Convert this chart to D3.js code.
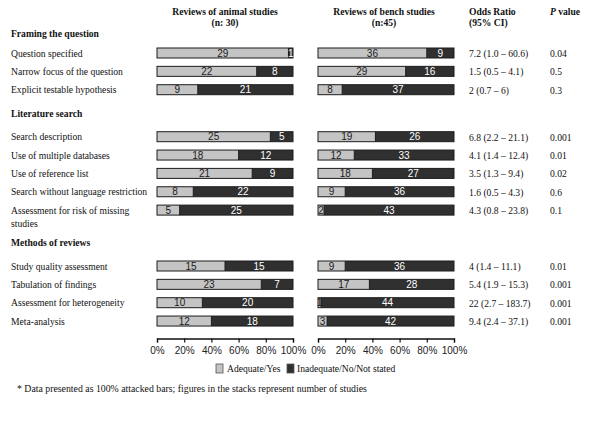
<!DOCTYPE html>
<html><head><meta charset="utf-8">
<script src="https://cdn.jsdelivr.net/npm/d3@7"></script>
<style>body{margin:0;background:#fff}</style>
</head><body>
<svg id="c" width="600" height="442"></svg>
<script>
const sections = ["Framing the question", "Literature search", "Methods of reviews"];
const categories = [
  "Question specified", "Narrow focus of the question", "Explicit testable hypothesis",
  "Search description", "Use of multiple databases", "Use of reference list",
  "Search without language restriction", "Assessment for risk of missing|studies",
  "Study quality assessment", "Tabulation of findings", "Assessment for heterogeneity", "Meta-analysis"
];
const categorySection = [0,0,0,1,1,1,1,1,2,2,2,2];
const animalYes = [29,22,9,25,18,21,8,5,15,23,10,12];
const animalNo  = [1,8,21,5,12,9,22,25,15,7,20,18];
const benchYes  = [36,29,8,19,12,18,9,2,9,17,1,3];
const benchNo   = [9,16,37,26,33,27,36,43,36,28,44,42];
const oddsRatio = ["7.2 (1.0 – 60.6)","1.5 (0.5 – 4.1)","2 (0.7 – 6)","6.8 (2.2 – 21.1)","4.1 (1.4 – 12.4)","3.5 (1.3 – 9.4)","1.6 (0.5 – 4.3)","4.3 (0.8 – 23.8)","4 (1.4 – 11.1)","5.4 (1.9 – 15.3)","22 (2.7 – 183.7)","9.4 (2.4 – 37.1)"];
const pValues = ["0.04","0.5","0.3","0.001","0.01","0.02","0.6","0.1","0.01","0.001","0.001","0.001"];
const tickValues = [0,0.2,0.4,0.6,0.8,1];
const legendLabels = ["Adequate/Yes","Inadequate/No/Not stated"];

const svg = d3.select("#c");
const serif = "'Liberation Serif','Times New Roman',serif";
const sans = "'Liberation Sans Narrow','Liberation Sans',Arial,sans-serif";
const light = "#c4c4c4", dark = "#303030", border = "#1c1c1c";

// vertical layout
const rowStep = 18.35;
const headerY = [33.3, 113.3, 242.3];
const firstRowY = [53, 136.7, 266];
const rowY = [];
const counts = [0,0,0];
categories.forEach((c,i)=>{ const s=categorySection[i]; rowY.push(firstRowY[s] + counts[s]*rowStep); counts[s]++; });
const barH = 10;

const xA = d3.scaleLinear().domain([0,1]).range([157, 293]);
const xB = d3.scaleLinear().domain([0,1]).range([318, 454]);

// column headers
function header(x, lines, bold=true, anchor="middle"){
  const t = svg.append("text").attr("x",x).attr("y",15).attr("text-anchor",anchor)
    .style("font-family",serif).style("font-size","9.6px").style("font-weight",bold?"bold":"normal").attr("fill","#111");
  lines.forEach((l,i)=> t.append("tspan").attr("x",x).attr("dy", i?10.5:0).text(l));
  return t;
}
header(225, ["Reviews of animal studies","(n: 30)"]);
header(384, ["Reviews of bench studies","(n:45)"]);
header(469, ["Odds Ratio","(95% CI)"], true, "start");
const pv = svg.append("text").attr("x",550).attr("y",15).style("font-family",serif).style("font-size","9.6px").style("font-weight","bold").attr("fill","#111");
pv.append("tspan").style("font-style","italic").text("P");
pv.append("tspan").text(" value");

// section headers
sections.forEach((s,i)=>{
  svg.append("text").attr("x",11).attr("y",headerY[i]+3.5).text(s)
    .style("font-family",serif).style("font-size","9.6px").style("font-weight","bold").attr("fill","#111");
});

// category labels
categories.forEach((c,i)=>{
  const t = svg.append("text").attr("x",11).attr("y",rowY[i]+3.5)
    .style("font-family",serif).style("font-size","9.6px").attr("fill","#111");
  c.split("|").forEach((l,j)=> t.append("tspan").attr("x",11).attr("dy", j?13:0).text(l));
});

// bars
function drawBars(x, yes, no){
  const g = svg.append("g");
  categories.forEach((c,i)=>{
    const tot = yes[i]+no[i];
    const fy = yes[i]/tot;
    const y0 = rowY[i]-barH/2;
    g.append("rect").attr("x",x(0)).attr("y",y0).attr("width",x(fy)-x(0)).attr("height",barH).attr("fill",light);
    g.append("rect").attr("x",x(fy)).attr("y",y0).attr("width",x(1)-x(fy)).attr("height",barH).attr("fill",dark);
    g.append("rect").attr("x",x(0)).attr("y",y0).attr("width",x(1)-x(0)).attr("height",barH)
      .attr("fill","none").attr("stroke",border).attr("stroke-width",1);
    g.append("line").attr("x1",x(fy)).attr("x2",x(fy)).attr("y1",y0).attr("y2",y0+barH).attr("stroke",border);
    g.append("text").attr("x",(x(0)+x(fy))/2).attr("y",rowY[i]+3.6).attr("text-anchor","middle")
      .style("font-family",sans).style("font-size","10px").attr("fill","#1a1a1a").text(yes[i]);
    g.append("text").attr("x",(x(fy)+x(1))/2).attr("y",rowY[i]+3.6).attr("text-anchor","middle")
      .style("font-family",sans).style("font-size","10px").attr("fill","#fff").text(no[i]);
  });
}
drawBars(xA, animalYes, animalNo);
drawBars(xB, benchYes, benchNo);

// OR and P columns
categories.forEach((c,i)=>{
  svg.append("text").attr("x",469).attr("y",rowY[i]+4).text(oddsRatio[i])
    .style("font-family",serif).style("font-size","9.6px").attr("fill","#111");
  svg.append("text").attr("x",550).attr("y",rowY[i]+4).text(pValues[i])
    .style("font-family",serif).style("font-size","9.6px").attr("fill","#111");
});

// axes
[xA,xB].forEach(x=>{
  const ax = svg.append("g").attr("transform","translate(0,338.5)")
    .call(d3.axisBottom(x).tickValues(tickValues).tickFormat(d3.format(".0%")).tickSize(4).tickSizeOuter(4));
  ax.select(".domain").attr("stroke","#111").attr("stroke-width",1.3);
  ax.selectAll(".tick line").attr("stroke","#111").attr("stroke-width",1.2);
  ax.selectAll(".tick text").attr("y",8).style("font-family",sans).style("font-size","10px").attr("fill","#222");
});

// legend
const lg = svg.append("g").attr("transform","translate(0,369)");
[[216,light,227],[287,dark,297]].forEach((p,i)=>{
  lg.append("rect").attr("x",p[0]).attr("y",-5).attr("width",7).attr("height",9).attr("fill",p[1]).attr("stroke","#555").attr("stroke-width",0.8);
  lg.append("text").attr("x",p[2]).attr("y",3.2).text(legendLabels[i])
    .style("font-family",serif).style("font-size","9.6px").attr("fill","#111");
});

// footnote
svg.append("text").attr("x",17).attr("y",392).text("* Data presented as 100% attacked bars; figures in the stacks represent number of studies")
  .style("font-family",serif).style("font-size","9.8px").attr("fill","#111");
</script>
</body></html>
